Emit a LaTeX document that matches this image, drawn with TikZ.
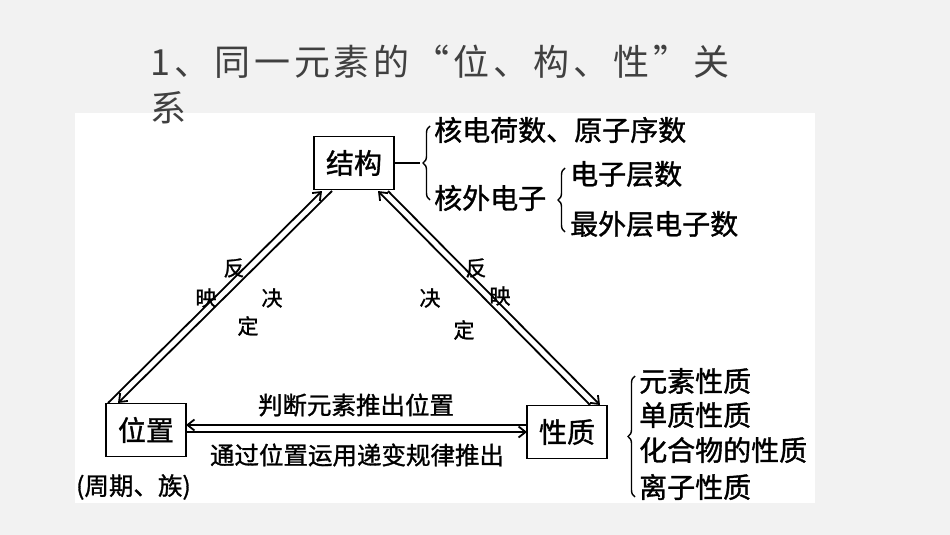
\documentclass[tikz,border=0pt]{standalone}
\usepackage{fontspec}
\newfontfamily\cjk[FakeBold=1.2]{Noto Sans CJK SC}
\newfontfamily\cjkt[LetterSpace=11]{Noto Sans CJK SC}
\usetikzlibrary{arrows.meta,decorations.pathreplacing}
\begin{document}
\begin{tikzpicture}[x=1pt,y=-1pt,
  box/.style={draw,line width=1.8pt,minimum width=80pt,minimum height=53pt,font=\cjk\fontsize{28}{28}\selectfont,inner sep=0pt},
  lab/.style={font=\cjk\fontsize{28}{28}\selectfont,inner sep=0pt,anchor=west},
  sm/.style={font=\cjk\fontsize{21}{21}\selectfont,inner sep=0pt},
  mid/.style={font=\cjk\fontsize{24.5}{24.5}\selectfont,inner sep=0pt},
  ln/.style={line width=1.8pt,-{Straight Barb[length=7pt,width=11pt]}},
  br/.style={line width=1.4pt,decorate,decoration={brace,amplitude=7pt,mirror}}]
\useasboundingbox (0,0) rectangle (950,535);
\fill[gray!10] (0,0) rectangle (950,535);
\fill[white] (75,113) rectangle (815,503);
\node[anchor=north west,align=left,text=black!75,font=\cjkt\fontsize{36}{46}\selectfont,inner sep=0pt] (title) at (150,45) {1、同一元素的“位、构、性”关\\系};
\node[box] (jg) at (354,163) {结构};
\node[box] (wz) at (146,430) {位置};
\node[box] (xz) at (567,432) {性质};
% left side
\coordinate (a1) at (322,191); \coordinate (a2) at (108,403);
\coordinate (b1) at (332,191); \coordinate (b2) at (118,403);
\draw[ln] (a2) -- (a1);
\draw[ln] (b1) -- (b2);
% right side
\coordinate (c1) at (378,191); \coordinate (c2) at (590,405);
\coordinate (d1) at (388,191); \coordinate (d2) at (600,405);
\draw[ln] (c2) -- (c1);
\draw[ln] (d1) -- (d2);
% bottom
\coordinate (e1) at (186,425); \coordinate (e2) at (527,425);
\coordinate (f1) at (186,432); \coordinate (f2) at (527,432);
\draw[ln] (e2) -- (e1);
\draw[ln] (f1) -- (f2);
\node[sm] (l1) at (234,268) {反};
\node[sm] (l2) at (206,298) {映};
\node[sm] (l3) at (272,298) {决};
\node[sm] (l4) at (248,326) {定};
\node[sm] (r1) at (476,268) {反};
\node[sm] (r2) at (500,296) {映};
\node[sm] (r3) at (430,298) {决};
\node[sm] (r4) at (464,330) {定};
\node[mid] (top) at (356,405) {判断元素推出位置};
\node[mid] (bot) at (357,455) {通过位置运用递变规律推出};
\node[mid,anchor=west] (zq) at (76,487) {(周期、族)};
% structure brace
\draw[line width=1.6pt] (jg.east) -- (420,163) coordinate (jb);
\draw[br] (430,126) -- (430,200);
\node[lab] (s1) at (434,130) {核电荷数、原子序数};
\node[lab] (s2) at (434,198) {核外电子};
\draw[br] (565,168) -- (565,232);
\node[lab] (s3) at (570,174) {电子层数};
\node[lab] (s4) at (570,224) {最外层电子数};
% property brace
\draw[br] (635,376) -- (635,497);
\node[lab] (p1) at (639,381) {元素性质};
\node[lab] (p2) at (639,415) {单质性质};
\node[lab] (p3) at (639,450) {化合物的性质};
\node[lab] (p4) at (639,487) {离子性质};
\end{tikzpicture}
\end{document}
